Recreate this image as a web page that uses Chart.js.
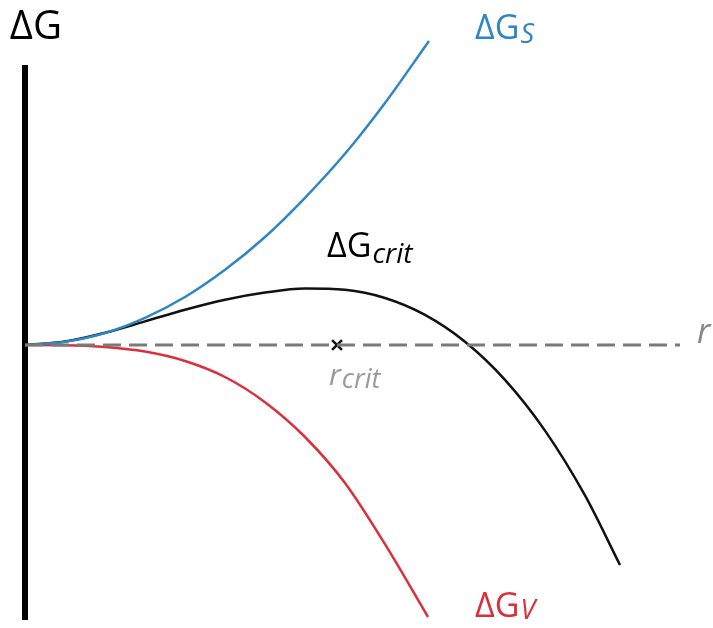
<!DOCTYPE html>
<html>
<head>
<meta charset="utf-8">
<script src="https://cdn.jsdelivr.net/npm/chart.js@4"></script>
<style>
  html, body { margin: 0; padding: 0; background: #fff; }
  #wrap { width: 713px; height: 628px; position: relative; }
</style>
</head>
<body>
<div id="wrap"><canvas id="gibbsChart"></canvas></div>
<script>
// DATA (r in arbitrary units, ΔG in arbitrary units)

const rValues = [0, 1, 2, 3, 4, 5, 6, 7, 8, 9, 10, 11, 12, 13, 14, 14.875];
const totalG = [0, 0.085, 0.305, 0.59, 0.88, 1.13, 1.31, 1.41, 1.38, 1.175, 0.752, 0.082, -0.871, -2.14, -3.762, -5.5];

const surfaceR = [0, 1, 2, 3, 4, 5, 6, 7, 8, 9, 10.1];
const surfaceG = [0, 0.08, 0.3, 0.68, 1.2, 1.88, 2.7, 3.68, 4.78, 6.05, 7.6];

const volumeR = [0, 1, 2, 3, 4, 5, 6, 7, 8, 9, 10.075];
const volumeG = [0, -0.005, -0.05, -0.165, -0.4, -0.8, -1.43, -2.3, -3.45, -4.98, -6.8];

const rCrit = 7.8;
const rAxisEnd = 16.375;
const gAxisTop = 7.0;
const gAxisBottom = -6.875;

// HELPERS

function toPoints(xs, ys) {
  return xs.map((x, i) => ({ x: x, y: ys[i] }));
}

// draw "ΔG" + subscript
function drawLabel(ctx, main, sub, x, y, color, size, subSize, subDrop) {
  ctx.fillStyle = color;
  ctx.textBaseline = "alphabetic";
  ctx.textAlign = "left";
  ctx.font = size + "px 'Open Sans'";
  ctx.fillText(main, x, y);
  if (sub) {
    const w = ctx.measureText(main).width;
    ctx.font = "italic " + subSize + "px 'Open Sans'";
    ctx.fillText(sub, x + w + 1, y + subDrop);
  }
}

// LABEL PLUGIN

const labelPlugin = {
  id: "labels",
  afterDatasetsDraw(chart) {
    const ctx = chart.ctx;
    const xs = chart.scales.x;
    const ys = chart.scales.y;
    const px = v => xs.getPixelForValue(v);
    const py = v => ys.getPixelForValue(v);

    ctx.save();
    drawLabel(ctx, "ΔG", "", px(-0.38), py(7.65), "#000", 40, 0, 0);
    drawLabel(ctx, "ΔG", "S", px(11.25), py(7.65), "#2f86c4", 34, 27, 4);
    drawLabel(ctx, "ΔG", "crit", px(7.55), py(2.2), "#000", 34, 28, 6);
    drawLabel(ctx, "ΔG", "V", px(11.25), py(-6.8), "#dc2f3c", 34, 27, 2);

    // r_crit under the cross
    ctx.fillStyle = "#9a9a9a";
    ctx.font = "italic 30px 'Open Sans'";
    ctx.fillText("r", px(7.6), py(-1.0));
    const rw = ctx.measureText("r").width;
    ctx.font = "italic 27px 'Open Sans'";
    ctx.fillText("crit", px(7.6) + rw + 1, py(-1.075));

    // r at the end of the axis
    ctx.fillStyle = "#888";
    ctx.font = "italic 34px 'Open Sans'";
    ctx.fillText("r", px(16.8), py(0.05));
    ctx.restore();
  }
};

// CHART

const ctx = document.getElementById("gibbsChart").getContext("2d");

new Chart(ctx, {
  type: "scatter",
  data: {
    datasets: [
      {
        label: "r axis",
        data: [{ x: 0, y: 0 }, { x: rAxisEnd, y: 0 }],
        showLine: true,
        borderColor: "#7a7a7a",
        borderWidth: 3,
        borderDash: [18, 8],
        pointRadius: 0
      },
      {
        label: "ΔG_S",
        data: toPoints(surfaceR, surfaceG),
        showLine: true,
        borderColor: "#2f86c4",
        borderWidth: 2.5,
        pointRadius: 0,
        cubicInterpolationMode: "monotone"
      },
      {
        label: "ΔG_V",
        data: toPoints(volumeR, volumeG),
        showLine: true,
        borderColor: "#dc2f3c",
        borderWidth: 2.5,
        pointRadius: 0,
        cubicInterpolationMode: "monotone"
      },
      {
        label: "ΔG",
        data: toPoints(rValues, totalG),
        showLine: true,
        borderColor: "#111",
        borderWidth: 2.5,
        pointRadius: 0,
        cubicInterpolationMode: "monotone"
      },
      {
        label: "ΔG axis",
        data: [{ x: 0, y: gAxisTop }, { x: 0, y: gAxisBottom }],
        showLine: true,
        borderColor: "#000",
        borderWidth: 6,
        pointRadius: 0
      },
      {
        label: "r_crit",
        data: [{ x: rCrit, y: 0 }],
        pointStyle: "crossRot",
        pointRadius: 7,
        borderColor: "#111",
        borderWidth: 2.5
      }
    ]
  },
  options: {
    responsive: true,
    maintainAspectRatio: false,
    animation: false,
    layout: { padding: 0, autoPadding: false },
    plugins: {
      legend: { display: false },
      tooltip: { enabled: false }
    },
    scales: {
      x: { type: "linear", display: false, min: -0.625, max: 17.2 },
      y: { type: "linear", display: false, min: -7.075, max: 8.625 }
    }
  },
  plugins: [labelPlugin]
});
</script>
</body>
</html>
